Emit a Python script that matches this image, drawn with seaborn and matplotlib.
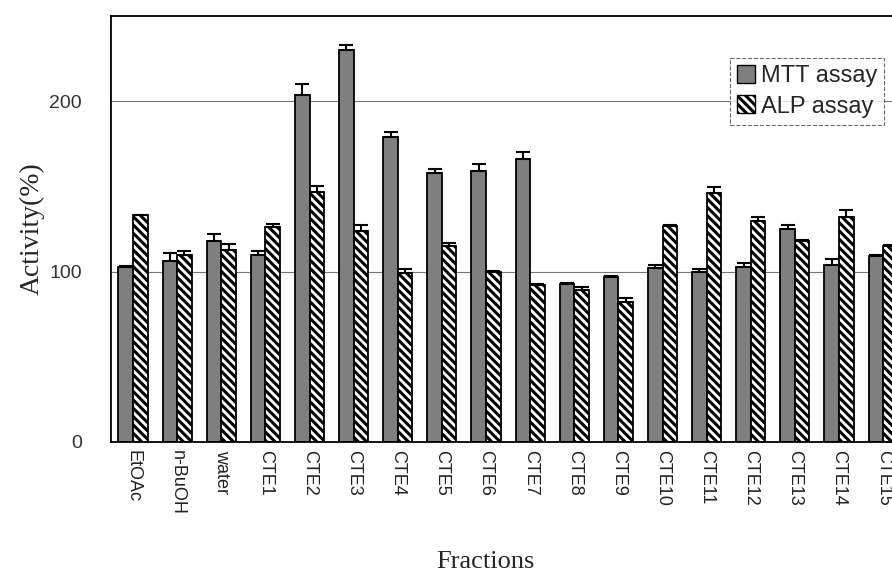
import numpy as np
import pandas as pd
import seaborn as sns
import matplotlib.pyplot as plt
import matplotlib.patches as mpatches

# --- data ---
fractions = ['EtOAc', 'n-BuOH', 'water', 'CTE1', 'CTE2', 'CTE3', 'CTE4', 'CTE5', 'CTE6',
             'CTE7', 'CTE8', 'CTE9', 'CTE10', 'CTE11', 'CTE12', 'CTE13', 'CTE14', 'CTE15']
mtt = [103, 106, 118, 110, 204, 230, 179, 158, 159, 166, 93, 97, 102, 100, 103, 125, 104, 109]
mtt_err = [0.5, 5, 4, 2, 6, 3, 3, 2.5, 4.5, 4, 0.5, 0.5, 2, 1.5, 2, 2.5, 3.5, 0.5]
alp = [133, 110, 113, 126, 147, 124, 99, 115, 100, 92, 89, 82, 127, 146, 130, 118, 132, 115]
alp_err = [0.5, 2, 3.5, 2, 3.5, 3.5, 2.5, 2, 0.5, 0.5, 2, 2.3, 0.5, 3.5, 2, 0.5, 4.5, 0.5]
assays = ['MTT assay', 'ALP assay']

df = pd.DataFrame({
    'Fraction': fractions * 2,
    'Assay': [assays[0]] * len(fractions) + [assays[1]] * len(fractions),
    'Activity': mtt + alp,
})

sns.set_style('white')
plt.rcParams['hatch.linewidth'] = 2.2

fig = plt.figure(figsize=(8.92, 5.80), dpi=100)
ax = fig.add_axes([0.1244, 0.238, 0.8756, 0.734])

sns.barplot(data=df, x='Fraction', y='Activity', hue='Assay', order=fractions,
            hue_order=assays, palette=['#7f7f7f', 'white'], width=0.66,
            errorbar=None, edgecolor='black', linewidth=1.3, ax=ax, legend=False)

# hatch the ALP bars and add the (upper) error caps
containers = ax.containers
for bar in containers[1]:
    bar.set_hatch('\\\\\\\\')
for cont, err in zip(containers, [mtt_err, alp_err]):
    xs = [b.get_x() + b.get_width() / 2 for b in cont]
    hs = [b.get_height() for b in cont]
    ax.errorbar(xs, hs, yerr=[np.zeros(len(err)), err], fmt='none',
                ecolor='black', elinewidth=1.5, capsize=5, capthick=1.5, zorder=5)

ax.set_ylim(0, 250)
ax.set_xlim(-0.5, 17.2)
ax.set_yticks([0, 100, 200])
ax.set_yticklabels(['0', '100', '200'], fontsize=14, color='#333333', family='Liberation Sans')
ax.yaxis.grid(True, color='#777777', linewidth=0.8)
ax.set_axisbelow(True)
ax.tick_params(axis='y', length=0, pad=21)
ax.set_xticks(range(len(fractions)))
ax.set_xticklabels(fractions, rotation=-90, fontsize=13, color='#222222', va='top',
                   family='Liberation Sans')
ax.tick_params(axis='x', length=0, pad=6)

for side in ['left', 'top', 'bottom']:
    ax.spines[side].set_color('black')
    ax.spines[side].set_linewidth(1.3)
ax.spines['right'].set_visible(False)

ax.set_ylabel('Activity(%)', fontsize=20, family='Liberation Serif')
ax.yaxis.set_label_coords(-0.085, 0.5)
ax.set_xlabel('Fractions', fontsize=19, family='Liberation Serif')
ax.xaxis.set_label_coords(0.479, -0.255)

# legend
handles = [mpatches.Patch(facecolor='#7f7f7f', edgecolor='black', label=assays[0]),
           mpatches.Patch(facecolor='white', edgecolor='black', hatch='\\\\\\\\', label=assays[1])]
leg = ax.legend(handles=handles, loc='upper right', bbox_to_anchor=(1.005, 0.93),
                prop={'family': 'Liberation Sans', 'size': 17}, frameon=True, fancybox=False,
                handlelength=0.75, handleheight=0.8, handletextpad=0.25, borderpad=0.3,
                labelspacing=0.35)
leg.get_frame().set_edgecolor('#444444')
leg.get_frame().set_linestyle('--')
leg.get_frame().set_linewidth(0.8)

plt.savefig('out.png', dpi=100)
